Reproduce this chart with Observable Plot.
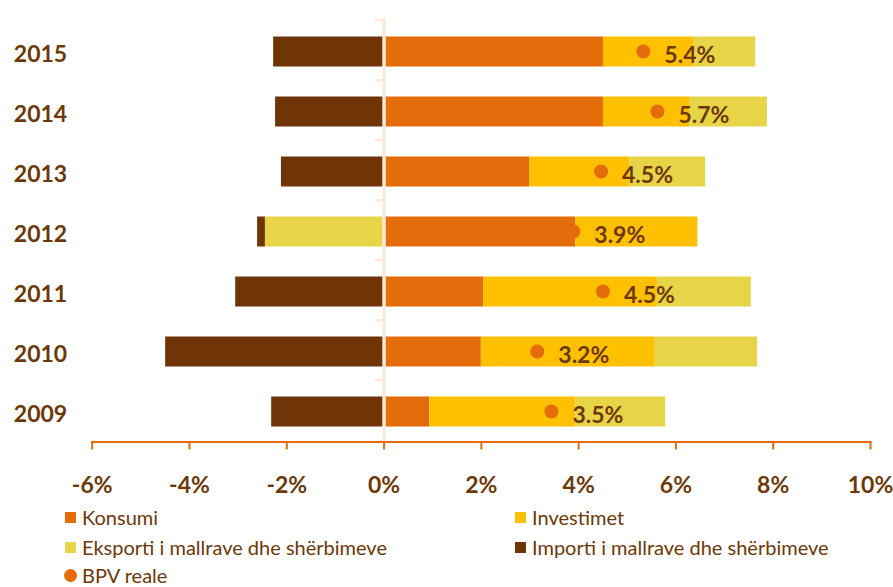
<!DOCTYPE html>
<html>
<head>
<meta charset="utf-8">
<script src="https://cdn.jsdelivr.net/npm/d3@7"></script>
<script src="https://cdn.jsdelivr.net/npm/@observablehq/plot@0.6"></script>
<style>
  body { margin: 0; background: #fff; font-family: Lato, "Open Sans", sans-serif; }
  #wrap { position: relative; width: 893px; height: 587px; }
  #legend { position: absolute; left: 0; top: 500px; width: 893px; height: 87px; }
  .item { position: absolute; height: 20px; line-height: 1; display: flex; align-items: center; font-size: 20px; color: #6d3808; white-space: nowrap; }
  .sw { width: 11px; height: 11px; margin-right: 6px; flex: none; }
  .dotsw { width: 13px; height: 13px; border-radius: 50%; margin-left: -1px; margin-right: 5px; flex: none; }
</style>
</head>
<body>
<div id="wrap"><div id="chart"></div><div id="legend"></div></div>
<script>
// ---- data ----
const years = ["2009", "2010", "2011", "2012", "2013", "2014", "2015"];
const seriesNames = ["Konsumi", "Investimet", "Eksporti i mallrave dhe shërbimeve", "Importi i mallrave dhe shërbimeve"];
const konsumi    = [0.94, 2.00, 2.05, 3.94, 2.99, 4.51, 4.51];
const investimet = [3.00, 3.56, 3.57, 2.51, 2.06, 1.77, 1.85];
const eksporti   = [1.85, 2.12, 1.93, -2.44, 1.56, 1.60, 1.28];
const importi    = [-2.31, -4.49, -3.05, -0.16, -2.11, -2.23, -2.27];
const bpvReale   = [3.44, 3.15, 4.50, 3.89, 4.46, 5.62, 5.33];
const bpvLabels  = ["3.5%", "3.2%", "4.5%", "3.9%", "4.5%", "5.7%", "5.4%"];
const xTicks = [-6, -4, -2, 0, 2, 4, 6, 8, 10];
const dotLabel = "BPV reale";

const colors = ["#E46C0A", "#FFC000", "#E8D447", "#6F3506"];
const textColor = "#6d3808";
const axisColor = "#E46C0A";
const zeroColor = "#FDE9D9";

const seriesValues = [konsumi, investimet, eksporti, importi];
const rows = [];
seriesNames.forEach((s, i) => years.forEach((y, j) => rows.push({series: s, year: y, value: seriesValues[i][j]})));
const gdp = years.map((y, j) => ({year: y, value: bpvReale[j], label: bpvLabels[j]}));
const yDomain = years.slice().reverse();

const chart = Plot.plot({
  width: 893,
  height: 500,
  marginLeft: 91.7,
  marginRight: 23,
  marginTop: 18,
  marginBottom: 58.5,
  style: {fontFamily: "Lato, sans-serif", background: "#fff"},
  x: {domain: [-6, 10]},
  y: {domain: yDomain, paddingInner: 0.5, paddingOuter: 0.25},
  color: {domain: seriesNames, range: colors},
  marks: [
    Plot.barX(rows, {x: "value", y: "year", fill: "series", dy: 1.5}),
    Plot.ruleX([0], {stroke: zeroColor, strokeWidth: 3.5}),
    Plot.ruleY(years, {y: d => d, x1: -0.17, x2: 0, dy: -30.25, stroke: zeroColor, strokeWidth: 2.5}),
    Plot.ruleY(["2009"], {y: d => d, x1: -0.17, x2: 0, dy: 30.25, stroke: zeroColor, strokeWidth: 2.5}),
    Plot.dot(gdp, {x: "value", y: "year", r: 7, fill: axisColor, dy: 1}),
    Plot.text(gdp, {x: "value", y: "year", text: "label", dx: 21, dy: 5, textAnchor: "start", fontWeight: "bold", fontSize: 23, fill: textColor}),
    Plot.frame({anchor: "bottom", stroke: axisColor, strokeWidth: 2}),
    Plot.axisX({ticks: xTicks, tickSize: 8, tickPadding: 27, stroke: axisColor, strokeWidth: 2, fill: textColor, fontSize: 23, fontWeight: "bold", tickFormat: d => d + "%", label: null}),
    Plot.axisY({tickSize: 0, tickPadding: 25, textAnchor: "end", dy: 4, fill: textColor, fontSize: 23, fontWeight: "bold", label: null})
  ]
});
document.getElementById("chart").appendChild(chart);

// ---- legend ----
const legend = document.getElementById("legend");
const pos = [[65, 7], [515, 7], [65, 37], [515, 37]];
seriesNames.forEach((s, i) => {
  const d = document.createElement("div");
  d.className = "item";
  d.style.left = pos[i][0] + "px";
  d.style.top = pos[i][1] + "px";
  d.innerHTML = `<span class="sw" style="background:${colors[i]}"></span><span>${s}</span>`;
  legend.appendChild(d);
});
const dd = document.createElement("div");
dd.className = "item";
dd.style.left = "65px";
dd.style.top = "65px";
dd.innerHTML = `<span class="dotsw" style="background:${axisColor}"></span><span>${dotLabel}</span>`;
legend.appendChild(dd);
</script>
</body>
</html>
